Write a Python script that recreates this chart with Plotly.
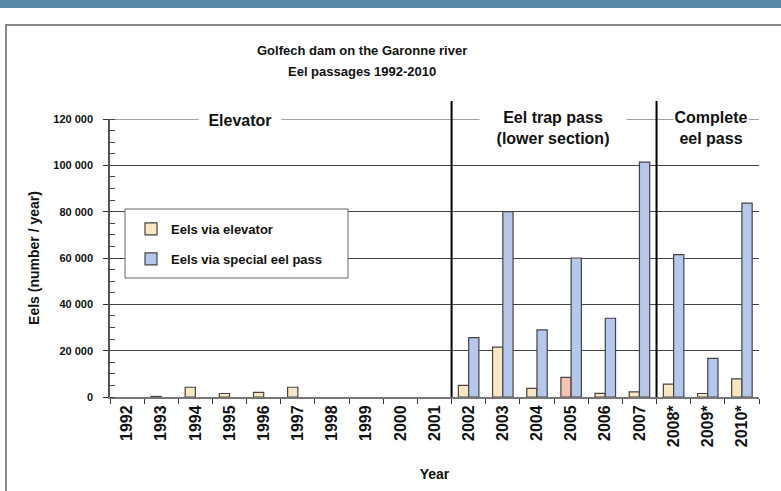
import plotly.graph_objects as go

# data (None = no bar drawn)
years = ['1992', '1993', '1994', '1995', '1996', '1997', '1998', '1999', '2000', '2001',
         '2002', '2003', '2004', '2005', '2006', '2007', '2008*', '2009*', '2010*']
elevator = [None, 250, 4200, 1500, 2000, 4200, None, None, None, None,
            5000, 21500, 3700, 8500, 1600, 2200, 5600, 1500, 7800]
eel_pass = [None, None, None, None, None, None, None, None, None, None,
            25600, 80000, 29000, 60000, 34000, 101400, 61500, 16700, 83700]

periods = ['Elevator', 'Eel trap pass<br>(lower section)', 'Complete<br>eel pass']

# figure geometry (pixels) -> paper helpers
W, H = 781, 491
L, R, T, B = 110, 759, 119, 397
def px(x): return (x - L) / (R - L)
def py(y): return (B - y) / (B - T)

bold = dict(family='Liberation Sans, Arial, sans-serif', weight='bold', color='#111')

elev_colors = ['#fae6c0'] * len(years)
elev_colors[years.index('2005')] = '#f6c2ac'

fig = go.Figure()
fig.add_trace(go.Bar(x=years, y=elevator, name='Eels via elevator',
                     legendgroup='a',
                     marker=dict(color=elev_colors, line=dict(color='#444', width=1.2))))
fig.add_trace(go.Bar(x=years, y=eel_pass, name='Eels via special eel pass',
                     legendgroup='b',
                     marker=dict(color='#b3c8ec', line=dict(color='#444', width=1.2))))

shapes = [
    # blue band at top of page
    dict(type='rect', xref='paper', yref='paper', x0=px(0), x1=px(W), y0=py(0), y1=py(8),
         fillcolor='#5a89a8', line=dict(width=0), layer='below'),
    # outer frame
    dict(type='rect', xref='paper', yref='paper', x0=px(6), x1=px(W + 10), y0=py(H + 10), y1=py(25),
         fillcolor='rgba(0,0,0,0)', line=dict(color='#888', width=2), layer='below'),
    # top gridline (range edge)
    dict(type='line', xref='paper', yref='y', x0=0, x1=1, y0=120000, y1=120000,
         line=dict(color='#444', width=1), layer='below'),
    # period separators
    dict(type='line', xref='x', yref='paper', x0=9.5, x1=9.5, y0=0, y1=py(101),
         line=dict(color='black', width=2)),
    dict(type='line', xref='x', yref='paper', x0=15.5, x1=15.5, y0=0, y1=py(101),
         line=dict(color='black', width=2)),
    # legend box
    dict(type='rect', xref='paper', yref='paper', x0=px(125), x1=px(348), y0=py(278), y1=py(209),
         fillcolor='white', line=dict(color='#666', width=1), layer='above'),
]

def note(text, x, y, size, yanchor='middle', **kw):
    return dict(text=text, x=px(x), y=py(y), xref='paper', yref='paper', xanchor='center',
                yanchor=yanchor, showarrow=False, font=dict(bold, size=size), **kw)

annotations = [
    note('Golfech dam on the Garonne river', 362, 50, 13),
    note('Eel passages 1992-2010', 362, 71, 13),
    note(periods[0], 240, 120, 16, bgcolor='white', width=82, borderpad=0),
    note(periods[1], 553, 108, 16, yanchor='top', bgcolor='white', width=146, borderpad=0),
    note(periods[2], 711, 108, 16, yanchor='top', bgcolor='white', width=74, borderpad=0),
]

fig.update_layout(
    width=W, height=H,
    margin=dict(l=L, r=W - R, t=T, b=H - B, autoexpand=False),
    paper_bgcolor='white', plot_bgcolor='white',
    barmode='group', bargap=0.4, bargroupgap=0,
    separators='. ',
    shapes=shapes, annotations=annotations,
    legend=dict(x=px(131), y=py(214), xanchor='left', yanchor='top',
                bgcolor='rgba(0,0,0,0)', borderwidth=0, tracegroupgap=10,
                font=dict(bold, size=13)),
    xaxis=dict(type='category', tickangle=-90, tickfont=dict(bold, size=16),
               ticks='outside', tickson='boundaries', ticklen=5, tickcolor='#333',
               showline=True, linecolor='#777', linewidth=2,
               title=dict(text='Year', font=dict(bold, size=14), standoff=23)),
    yaxis=dict(range=[0, 120000], tickvals=[0, 20000, 40000, 60000, 80000, 100000, 120000],
               tickformat=',d', tickfont=dict(bold, size=11), ticklabelstandoff=8,
               ticks='outside', ticklen=5, tickcolor='#333',
               showgrid=True, gridcolor='#444', gridwidth=1, zeroline=False,
               showline=True, linecolor='#555', linewidth=1.5,
               minor=dict(dtick=5000, ticks='inside', ticklen=5, tickcolor='#444', showgrid=False),
               title=dict(text='Eels (number / year)', font=dict(bold, size=14), standoff=10)),
)

fig.write_html("out.html", config={'displayModeBar': False},
               post_script="document.body.style.margin='0';")
